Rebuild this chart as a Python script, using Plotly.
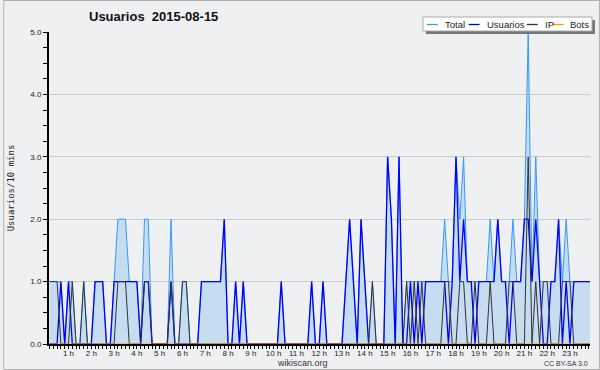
import plotly.graph_objects as go

# 10-minute slots of 2015-08-15 (0 = 00:00 ... 143 = 23:50)
slots = list(range(144))
usuarios = [0,0,0,1,0,1,0,0,0,0, 0,0,1,1,1,0,0,1,1,1, 1,1,1,1,0,1,1,0,0,0,
            0,0,1,0,0,0,0,0,0,0, 1,1,1,1,1,1,2,0,0,1, 0,1,0,0,0,0,0,0,0,0,
            0,1,0,0,0,0,0,0,0,1, 0,0,1,0,0,0,0,0,1,2, 1,0,2,1,0,0,0,0,0,3,
            2,0,3,0,0,1,0,1,0,1, 1,1,1,1,1,0,1,3,1,2, 1,1,0,1,1,1,1,1,2,1,
            1,0,1,1,1,2,2,1,2,1, 0,0,1,1,2,0,1,0,1,1, 1,1,1,1]
ip = [1,1,1,0,0,0,1,0,0,1, 0,0,0,0,0,0,0,0,1,1, 1,0,0,0,0,1,1,0,0,0,
      0,0,1,0,0,1,1,0,0,0, 0,0,0,0,0,0,0,0,0,0, 0,0,0,0,0,0,0,0,0,0,
      0,0,0,0,0,0,0,0,0,0, 0,0,0,0,0,0,0,0,0,0, 0,0,0,0,0,1,0,0,0,0,
      0,0,0,0,1,0,1,0,1,0, 0,0,0,0,1,1,0,0,1,1, 0,0,1,0,0,0,1,0,0,0,
      0,1,1,0,0,0,3,0,1,0, 1,1,0,0,0,1,1,1,0,0, 0,0,0,0]
bots = [0] * 144
total = [u + i + b for u, i, b in zip(usuarios, ip, bots)]

hour_labels = [f"{h} h" for h in range(1, 24)]
y_labels = ["0.0", "1.0", "2.0", "3.0", "4.0", "5.0"]

W, H = 600, 370
L, R, T, B = 46, 590, 32, 344
def px(x):
    return (x - L) / (R - L)
def py(y):
    return (B - y) / (B - T)

BG = "#eff0f2"
FONT = "Liberation Sans"

fig = go.Figure()
fig.add_trace(go.Scatter(x=slots, y=total, mode="lines", name="Total",
                         line=dict(color="#3399ff", width=1),
                         fill="tozeroy", fillcolor="#c6dcf0"))
fig.add_trace(go.Scatter(x=slots, y=usuarios, mode="lines", name="Usuarios",
                         line=dict(color="#0000ff", width=1.3)))
fig.add_trace(go.Scatter(x=slots, y=ip, mode="lines", name="IP",
                         line=dict(color="#333333", width=1)))
fig.add_trace(go.Scatter(x=slots, y=bots, mode="lines", name="Bots",
                         line=dict(color="#ff9900", width=1)))

fig.update_layout(
    width=W, height=H,
    margin=dict(l=L, r=W - R, t=T, b=H - B, pad=0),
    paper_bgcolor=BG, plot_bgcolor=BG,
    showlegend=False,
    font=dict(family=FONT, size=8, color="#222"),
    xaxis=dict(range=[-0.13, 142.27], showgrid=False, zeroline=False,
               showline=True, linecolor="black", linewidth=2,
               tickmode="array", tickvals=[6 * h - 1 for h in range(1, 24)],
               ticktext=hour_labels, ticks="", ticklen=0,
               tickfont=dict(size=8, color="#222"),
               minor=dict(tickmode="linear", tick0=0, dtick=1, ticks="outside",
                          ticklen=3, tickcolor="black", tickwidth=1, showgrid=False)),
    yaxis=dict(range=[0, 5], showgrid=True, gridcolor="#cccccc", gridwidth=1,
               zeroline=False, showline=True, linecolor="black", linewidth=2,
               tickmode="array", tickvals=[0, 1, 2, 3, 4, 5], ticktext=y_labels,
               ticks="outside", ticklen=4, tickcolor="black",
               tickfont=dict(size=8, color="#222"),
               minor=dict(tickmode="linear", tick0=0, dtick=0.25, ticks="outside",
                          ticklen=4, tickcolor="black", showgrid=False),
               title=dict(text="Usuarios/10 mins", standoff=14,
                          font=dict(family="DejaVu Sans Mono", size=9, color="#222"))),
)

shapes = []
# outer border
shapes.append(dict(type="rect", xref="paper", yref="paper",
                   x0=px(0.5), x1=px(599.5), y0=py(0.5), y1=py(369.5),
                   line=dict(color="#b0b0b0", width=1), layer="below"))
# legend shadow and box
shapes.append(dict(type="rect", xref="paper", yref="paper",
                   x0=px(425), x1=px(595), y0=py(20), y1=py(34),
                   line=dict(width=0), fillcolor="#777777", layer="above"))
shapes.append(dict(type="rect", xref="paper", yref="paper",
                   x0=px(422), x1=px(592), y0=py(17), y1=py(31),
                   line=dict(color="#aaaaaa", width=1), fillcolor="white", layer="above"))
legend_items = [("Total", "#3399ff", 426, 442),
                ("Usuarios", "#0000ff", 468, 484),
                ("IP", "#333333", 526.5, 542.5),
                ("Bots", "#ff9900", 552.5, 568)]
annotations = []
for name, col, lx, tx in legend_items:
    shapes.append(dict(type="line", xref="paper", yref="paper",
                       x0=px(lx), x1=px(lx + 11), y0=py(24.5), y1=py(24.5),
                       line=dict(color=col, width=1.3), layer="above"))
    annotations.append(dict(text=name, xref="paper", yref="paper", x=px(tx), y=py(24),
                            xanchor="left", yanchor="middle", showarrow=False,
                            font=dict(family=FONT, size=9.5, color="#222")))

annotations.append(dict(text="<b>Usuarios  2015-08-15</b>", xref="paper", yref="paper",
                        x=px(151), y=py(17), xanchor="center", yanchor="middle",
                        showarrow=False, font=dict(family=FONT, size=13, color="#111")))
annotations.append(dict(text="wikiscan.org", xref="paper", yref="paper",
                        x=px(301), y=py(362.5), xanchor="center", yanchor="middle",
                        showarrow=False, font=dict(family=FONT, size=9, color="#333")))
annotations.append(dict(text="CC BY-SA 3.0", xref="paper", yref="paper",
                        x=px(590), y=py(363), xanchor="right", yanchor="middle",
                        showarrow=False, font=dict(family=FONT, size=7, color="#333")))

fig.update_layout(shapes=shapes, annotations=annotations)
fig.write_html("out.html")
